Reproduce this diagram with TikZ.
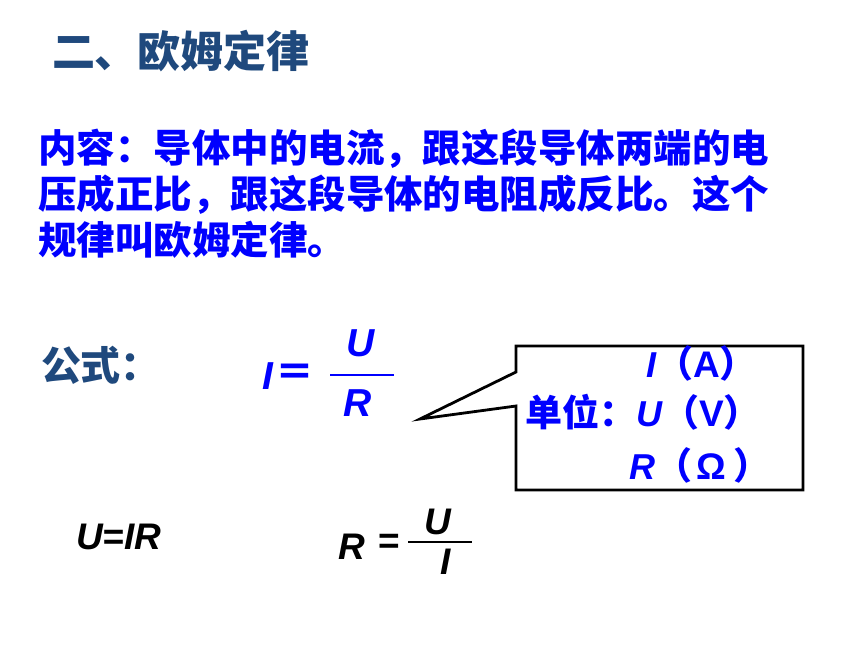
\documentclass[tikz,border=0pt]{standalone}
\usepackage{fontspec}
\setmainfont{Liberation Sans}
\newfontfamily\cjk{Noto Sans CJK SC}
\definecolor{titleblue}{RGB}{31,73,125}
\definecolor{textblue}{RGB}{0,0,255}
\begin{document}
\begin{tikzpicture}[x=1pt,y=-1pt,
  every node/.style={inner sep=0pt, outer sep=0pt},
  titletxt/.style={font=\cjk\bfseries\fontsize{43}{43}\selectfont, text=titleblue},
  bodytxt/.style={font=\cjk\bfseries\fontsize{38.5}{38.5}\selectfont, text=textblue},
  labeltxt/.style={font=\cjk\bfseries\fontsize{40}{40}\selectfont, text=titleblue},
  mathb/.style={font=\bfseries\itshape\fontsize{39}{39}\selectfont, text=textblue},
  mathk/.style={font=\bfseries\itshape\fontsize{37}{37}\selectfont, text=black},
  unittxt/.style={font=\bfseries\fontsize{37}{37}\selectfont, text=textblue},
  fracbar/.style={line width=2.7pt},
  callout/.style={draw=black, line width=2.8pt, fill=white, line join=miter}
]
\newcommand{\uvar}[1]{{\itshape\fontsize{36}{36}\selectfont #1}}
\newcommand{\ucjk}[1]{{\cjk\bfseries #1}}
\useasboundingbox (0,0) rectangle (860,645);
\fill[white] (0,0) rectangle (860,645);

% title
\node[titletxt, anchor=west] (title) at (52,51) {二、欧姆定律};

% content
\node[bodytxt, anchor=west] (line1) at (38,149) {内容：导体中的电流，跟这段导体两端的电};
\node[bodytxt, anchor=west] (line2) at (38,195) {压成正比，跟这段导体的电阻成反比。这个};
\node[bodytxt, anchor=west] (line3) at (38,240) {规律叫欧姆定律。};

% formula label
\node[labeltxt, anchor=west] (gs) at (41,365) {公式：};

% I = U / R
\node[mathb] (fI) at (268,376) {I};
\node[font=\cjk\bfseries\fontsize{39}{39}\selectfont, text=textblue] (feq) at (295,375) {＝};
\coordinate (barL) at (330,375);
\coordinate (barR) at (394,375);
\draw[fracbar, textblue] (barL) -- (barR);
\node[mathb] (fU) at (361,343) {U};
\node[mathb] (fR) at (358,403) {R};

% callout box
\coordinate (c1) at (516,346);
\coordinate (c2) at (803,346);
\coordinate (c3) at (803,490);
\coordinate (c4) at (516,490);
\coordinate (c5) at (516,406);
\coordinate (tip) at (420,419);
\coordinate (c6) at (516,372);
\draw[callout] (c1) -- (c2) -- (c3) -- (c4) -- (c5) -- (tip) -- (c6) -- cycle;

\node[unittxt, anchor=west] (rowA) at (646,363) {\uvar{I}\ucjk{（}A\ucjk{）}};
\node[unittxt, anchor=west] (rowV) at (525,412) {\ucjk{单位：}\uvar{U}\ucjk{（}V\ucjk{）}};
\node[unittxt, anchor=west] (rowO) at (629,465) {\uvar{R}\ucjk{（}\hspace{4pt}Ω\hspace{8pt}\ucjk{）}};

% U = IR
\node[mathk, anchor=west] (uir) at (76,537) {U=IR};

% R = U / I
\node[mathk] (rR) at (352,547) {R};
\node[font=\bfseries\fontsize{37}{37}\selectfont, text=black] (req) at (389,544) {=};
\coordinate (bar2L) at (408,542);
\coordinate (bar2R) at (472,542);
\draw[line width=2.5pt, black] (bar2L) -- (bar2R);
\node[mathk] (rU) at (438,522) {U};
\node[mathk] (rI) at (446,562) {I};
\end{tikzpicture}
\end{document}
